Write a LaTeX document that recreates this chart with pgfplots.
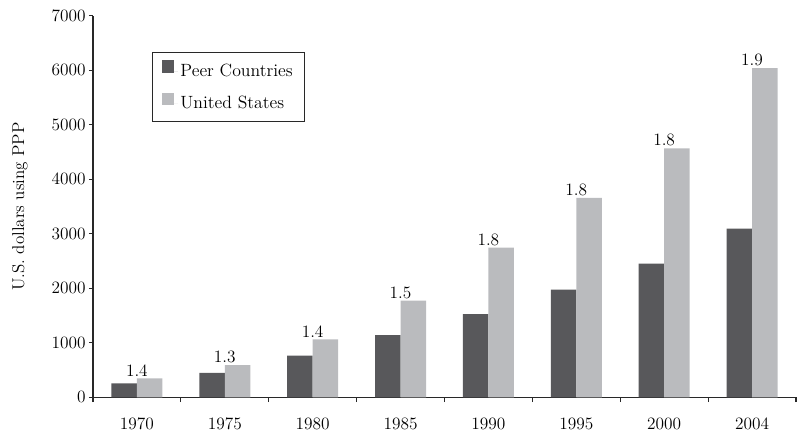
\documentclass[border=0pt]{standalone}
\usepackage{fontspec}
\usepackage{pgfplots}
\pgfplotsset{compat=1.18}
\definecolor{peer}{RGB}{88,88,91}
\definecolor{usc}{RGB}{186,187,190}
\definecolor{axc}{RGB}{40,40,40}
\begin{document}
\begin{tikzpicture}
\path[use as bounding box] (-69.75pt,-32pt) rectangle (530.25pt,298pt);
\begin{axis}[
 at={(0,0)}, anchor=south west,
 scale only axis, width=527.25pt, height=286.2pt,
 xmin=-0.5, xmax=7.5, ymin=0, ymax=7000,
 axis x line=bottom, axis y line=left,
 axis line style={-, line width=0.8pt, axc},
 ybar=0pt, bar width=19.1pt,
 xtick={0,...,7},
 xticklabels={1970,1975,1980,1985,1990,1995,2000,2004},
 minor xtick={-0.5,0.5,...,7.5},
 major x tick style={draw=none},
 minor x tick style={line width=0.8pt, axc},
 ytick={0,1000,...,7000},
 y tick style={line width=0.8pt, axc},
 tick align=outside, major tick length=3pt, minor tick length=3.5pt,
 /pgf/number format/1000 sep={},
 /pgf/number format/assume math mode=true,
 tick label style={font=\fontsize{13}{15}\selectfont},
 yticklabel style={xshift=1pt},
 xticklabel style={yshift=-9pt},
 ylabel={U.S. dollars using PPP},
 ylabel style={at={(axis description cs:-0.104,0.5)}, anchor=center, font=\fontsize{12.8}{15}\selectfont},
 legend style={at={(axis description cs:0.0839,0.905)}, anchor=north west,
   draw=axc, line width=0.7pt, inner xsep=7pt, inner ysep=6pt, row sep=8.5pt,
   font=\fontsize{13.3}{15}\selectfont},
 legend cell align=left,
 legend image code/.code={\fill[#1] (0pt,-1pt) rectangle (9.2pt,8.2pt); \path (0pt,0pt) -- (12pt,0pt);},
]
\addplot[fill=peer, draw=none] coordinates {
 (0,255) (1,451) (2,763) (3,1143) (4,1528) (5,1974) (6,2451) (7,3094)};
\addlegendentry{Peer Countries}
\addplot[fill=usc, draw=none, nodes near coords, point meta=explicit symbolic,
 nodes near coords style={xshift=-9.6pt, inner sep=1.5pt, font=\fontsize{13}{15}\selectfont, text=black}]
 coordinates {
 (0,349)[1.4] (1,593)[1.3] (2,1064)[1.4] (3,1773)[1.5] (4,2745)[1.8] (5,3657)[1.8] (6,4569)[1.8] (7,6037)[1.9]};
\addlegendentry{United States}
\end{axis}
\end{tikzpicture}
\end{document}
